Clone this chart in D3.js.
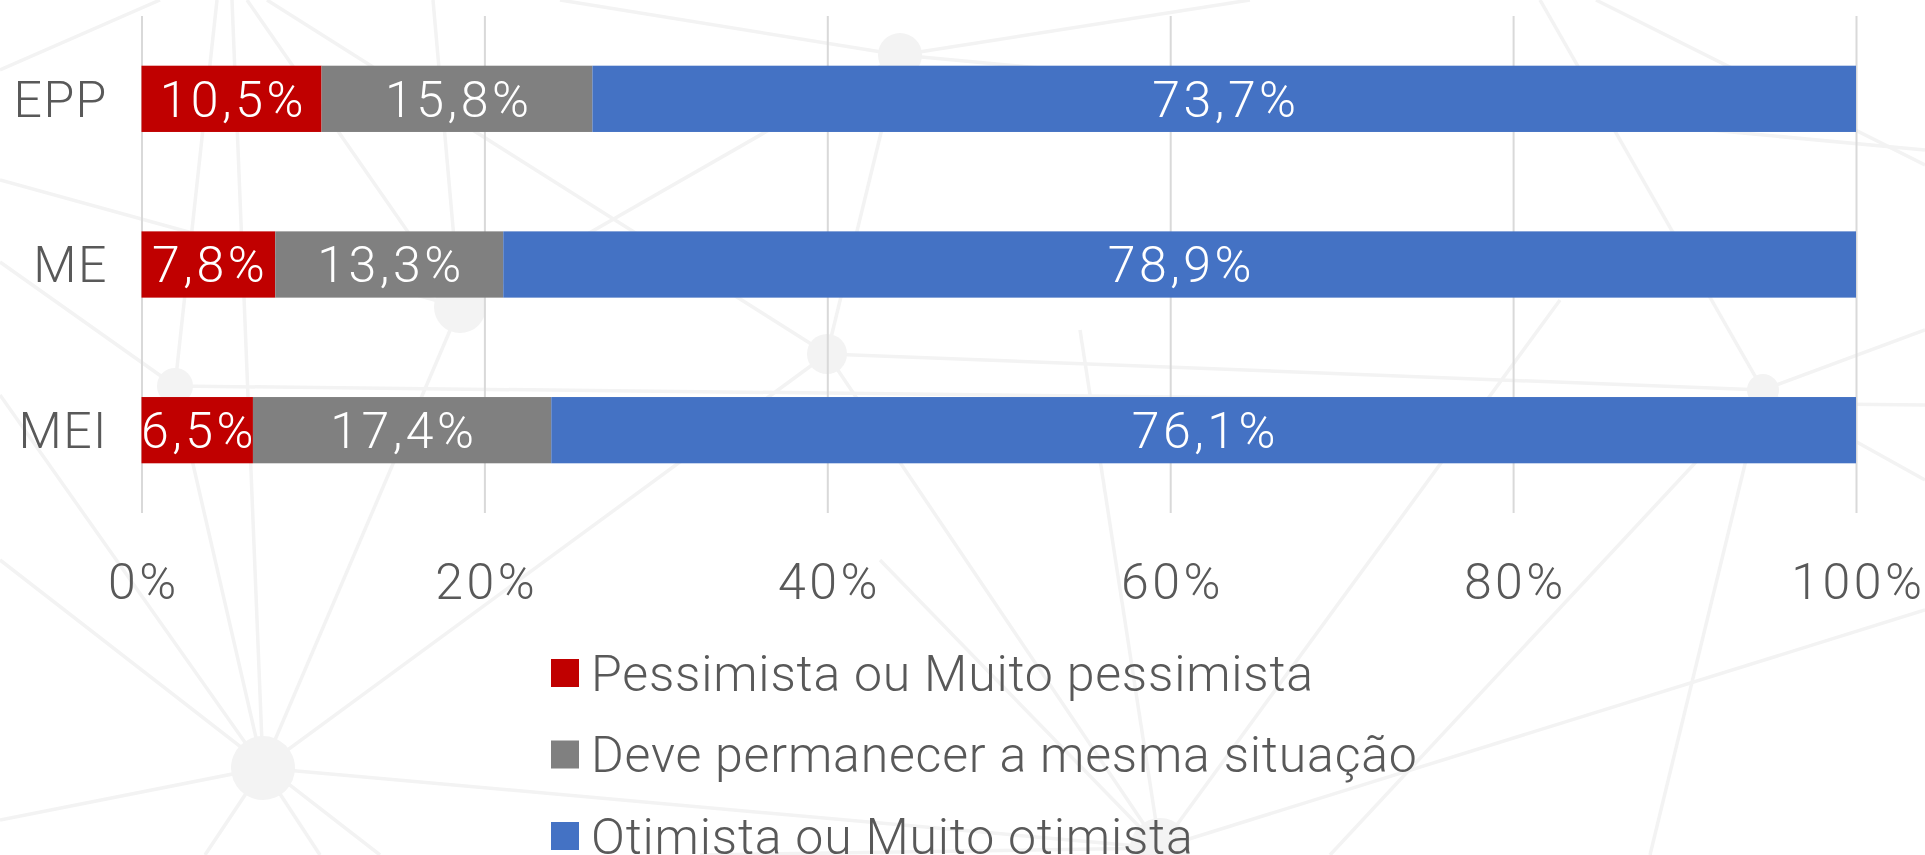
<!DOCTYPE html>
<html lang="pt-BR">
<head>
<meta charset="utf-8">
<title>Expectativa por porte de empresa</title>
<script src="https://cdn.jsdelivr.net/npm/d3@7/dist/d3.min.js"></script>
<style>
  html, body { margin: 0; padding: 0; background: #ffffff; }
  svg { display: block; }
  text { font-family: "Roboto", "Liberation Sans", sans-serif; font-weight: 300; }
</style>
</head>
<body>
<svg id="chart" width="1925" height="855"></svg>
<script>
// Categories (company size) and the share of each answer, in percent
const categories = ["EPP", "ME", "MEI"];
const pessimista = [10.5, 7.8, 6.5];
const mesma = [15.8, 13.3, 17.4];
const otimista = [73.7, 78.9, 76.1];

const seriesNames = [
  "Pessimista ou Muito pessimista",
  "Deve permanecer a mesma situação",
  "Otimista ou Muito otimista"
];
const seriesColors = ["#C00000", "#808080", "#4472C4"];
const xTicks = [0, 20, 40, 60, 80, 100];

// Faint decorative network behind the chart
const netNodes = [
  [263, 768, 32], [175, 386, 18], [460, 307, 26], [827, 354, 20],
  [1160, 848, 30], [900, 55, 22], [1763, 390, 16]
];
const netEdges = [
  [0, 1], [0, 2], [0, 3], [0, 4], [0, [0, 820]], [0, [0, 395]], [0, [232, 0]],
  [0, [205, 855]], [0, [320, 855]],
  [1, [217, 0]], [1, [0, 262]], [1, [1925, 405]],
  [2, [0, 180]], [2, [247, 0]], [2, [433, 0]], [2, 5],
  [3, [267, 0]], [3, 5], [3, 6], [3, 4],
  [5, [560, 0]], [5, [1250, 0]], [5, [1925, 150]],
  [4, [880, 560]], [4, [1925, 610]], [4, [1560, 300]], [4, [700, 855]], [4, [1080, 330]],
  [6, [1925, 330]], [6, [1925, 480]], [6, [1540, 0]], [6, [1650, 855]], [6, [1330, 855]],
  [[0, 70], [160, 0]], [[1596, 0], [1925, 165]], [[0, 560], [380, 855]]
];

const svg = d3.select("#chart");
const fontSize = 50;
const textGrey = "#595959";
const numSpacing = 3.5;   // tracking for the numeric labels
const wordSpacing = 0.8;  // tracking for the legend and category text

// Background network
const bg = svg.append("g").attr("class", "network");
const pt = p => Array.isArray(p) ? p : netNodes[p];
bg.selectAll("line")
  .data(netEdges)
  .join("line")
  .attr("x1", d => pt(d[0])[0]).attr("y1", d => pt(d[0])[1])
  .attr("x2", d => pt(d[1])[0]).attr("y2", d => pt(d[1])[1])
  .attr("stroke", "#f3f3f3")
  .attr("stroke-width", 3.5);
bg.selectAll("circle")
  .data(netNodes)
  .join("circle")
  .attr("cx", d => d[0]).attr("cy", d => d[1]).attr("r", d => d[2])
  .attr("fill", "#f3f3f3");

// Plot area
const plot = { left: 141.5, right: 1856, top: 16, bottom: 513 };

const x = d3.scaleLinear().domain([0, 100]).range([plot.left, plot.right]);
const y = d3.scaleBand().domain(categories).range([plot.top, plot.bottom])
  .paddingInner(0.6).paddingOuter(0.3);

// Gridlines and percentage tick labels
const xAxis = d3.axisBottom(x)
  .tickValues(xTicks)
  .tickFormat(d => d + "%")
  .tickSizeInner(-(plot.bottom - plot.top))
  .tickSizeOuter(0)
  .tickPadding(50);

const ax = svg.append("g")
  .attr("transform", `translate(0,${plot.bottom})`)
  .call(xAxis);
ax.select(".domain").remove();
ax.selectAll(".tick line").attr("stroke", "#d9d9d9").attr("stroke-width", 2);
ax.selectAll(".tick text")
  .attr("fill", textGrey)
  .attr("dx", numSpacing / 2)
  .style("font-size", fontSize + "px")
  .style("font-family", "Roboto, sans-serif")
  .style("font-weight", 300)
  .style("letter-spacing", numSpacing + "px");

// Stacked data
const rows = categories.map((c, i) => ({
  cat: c, p: pessimista[i], m: mesma[i], o: otimista[i]
}));
const stack = d3.stack().keys(["p", "m", "o"]);
const layers = stack(rows);

const capOffset = fontSize * 0.355;
const fmt = v => v.toFixed(1).replace(".", ",") + "%";

const gBars = svg.append("g");
layers.forEach((layer, li) => {
  gBars.append("g").selectAll("rect")
    .data(layer)
    .join("rect")
    .attr("x", d => x(d[0]))
    .attr("y", d => y(d.data.cat))
    .attr("width", d => x(d[1]) - x(d[0]))
    .attr("height", y.bandwidth())
    .attr("fill", seriesColors[li]);
});
layers.forEach((layer, li) => {
  gBars.append("g").selectAll("text")
    .data(layer)
    .join("text")
    .attr("x", d => (x(d[0]) + x(d[1])) / 2 + numSpacing / 2)
    .attr("y", d => y(d.data.cat) + y.bandwidth() / 2 + capOffset)
    .attr("text-anchor", "middle")
    .attr("fill", "#ffffff")
    .style("font-size", fontSize + "px")
    .style("letter-spacing", numSpacing + "px")
    .text(d => fmt(d[1] - d[0]));
});

// Category labels
svg.append("g").selectAll("text")
  .data(categories)
  .join("text")
  .attr("x", 107 + wordSpacing)
  .attr("y", d => y(d) + y.bandwidth() / 2 + capOffset)
  .attr("text-anchor", "end")
  .attr("fill", textGrey)
  .style("font-size", fontSize + "px")
  .style("letter-spacing", (wordSpacing + 0.6) + "px")
  .text(d => d);

// Legend
const legendY = d3.scalePoint().domain(seriesNames).range([673, 836]);
const lg = svg.append("g").selectAll("g")
  .data(seriesNames)
  .join("g")
  .attr("transform", d => `translate(551,${legendY(d)})`);
lg.append("rect")
  .attr("x", 0).attr("y", -14).attr("width", 28).attr("height", 28)
  .attr("fill", (d, i) => seriesColors[i]);
lg.append("text")
  .attr("x", 40)
  .attr("y", capOffset)
  .attr("fill", textGrey)
  .style("font-size", fontSize + "px")
  .style("letter-spacing", wordSpacing + "px")
  .text(d => d);
</script>
</body>
</html>
